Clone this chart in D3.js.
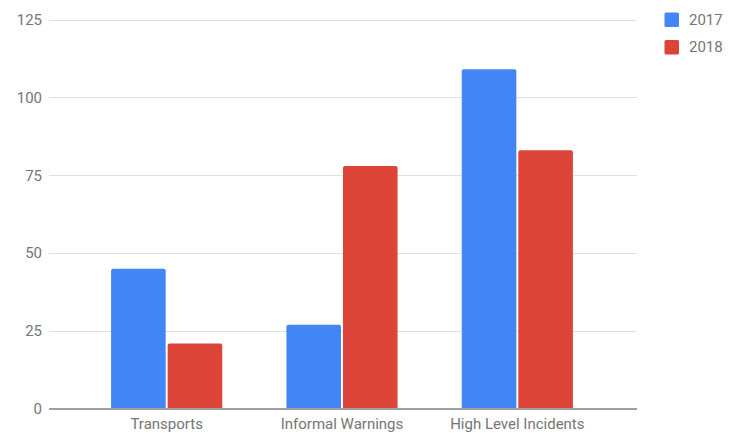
<!DOCTYPE html>
<html><head><meta charset="utf-8">
<script src="https://cdn.jsdelivr.net/npm/d3@7"></script>
<style>html,body{margin:0;padding:0;background:#fff;}svg{display:block;font-family:Roboto,Arial,sans-serif;}</style>
</head><body><svg id="c" width="737" height="433"></svg>
<script>
const categories = ["Transports", "Informal Warnings", "High Level Incidents"];
const seriesNames = ["2017", "2018"];
const values2017 = [45, 27, 109];
const values2018 = [21, 78, 83];
const yTicks = [0, 25, 50, 75, 100, 125];
const colors = ["#4285f4", "#db4437"];

const series = [values2017, values2018];
const svg = d3.select("#c");
const gridL = 49, gridR = 637;
const fs = 15;
const y = d3.scaleLinear().domain([0, 125]).range([409, 19.5]);
const x0 = d3.scaleBand().domain(categories).range([79, 605]).paddingInner(0.366).paddingOuter(0.183);
const x1 = d3.scaleBand().domain(seriesNames).range([0, x0.bandwidth()]).paddingInner(0.035);

// gridlines
svg.append("g").selectAll("line").data(yTicks.filter(d => d !== 0)).join("line")
  .attr("x1", gridL).attr("x2", gridR)
  .attr("y1", d => Math.round(y(d)) + 0.5).attr("y2", d => Math.round(y(d)) + 0.5)
  .attr("stroke", "#e0e0e0").attr("stroke-width", 1);

// y labels
svg.append("g").selectAll("text").data(yTicks).join("text")
  .attr("x", 42).attr("y", d => y(d)).attr("dy", "0.35em")
  .attr("text-anchor", "end").attr("font-size", fs).attr("fill", "#757575")
  .text(d => d);

// bars
function topRounded(x, yTop, w, h, r) {
  r = Math.min(r, h, w / 2);
  return `M${x},${yTop + h}V${yTop + r}Q${x},${yTop} ${x + r},${yTop}H${x + w - r}Q${x + w},${yTop} ${x + w},${yTop + r}V${yTop + h}Z`;
}
const g = svg.append("g");
categories.forEach((cat, i) => {
  seriesNames.forEach((s, j) => {
    const v = series[j][i];
    const bx = x0(cat) + x1(s);
    g.append("path")
      .attr("d", topRounded(bx, y(v), x1.bandwidth(), y(0) - y(v), 2))
      .attr("fill", colors[j]);
  });
});

// baseline
svg.append("line").attr("x1", gridL).attr("x2", gridR)
  .attr("y1", y(0)).attr("y2", y(0)).attr("stroke", "#9e9e9e").attr("stroke-width", 2);

// x labels
svg.append("g").selectAll("text").data(categories).join("text")
  .attr("x", d => x0(d) + x0.bandwidth() / 2).attr("y", 428.5)
  .attr("text-anchor", "middle").attr("font-size", fs).attr("fill", "#757575")
  .text(d => d);

// legend
const lg = svg.append("g");
seriesNames.forEach((s, j) => {
  lg.append("rect").attr("x", 664.5).attr("y", 12.5 + j * 27.5).attr("width", 14.5).attr("height", 14.5)
    .attr("rx", 1.5).attr("fill", colors[j]);
  lg.append("text").attr("x", 689).attr("y", 19.7 + j * 27.5).attr("dy", "0.35em")
    .attr("font-size", fs).attr("fill", "#757575").text(s);
});
</script></body></html>
